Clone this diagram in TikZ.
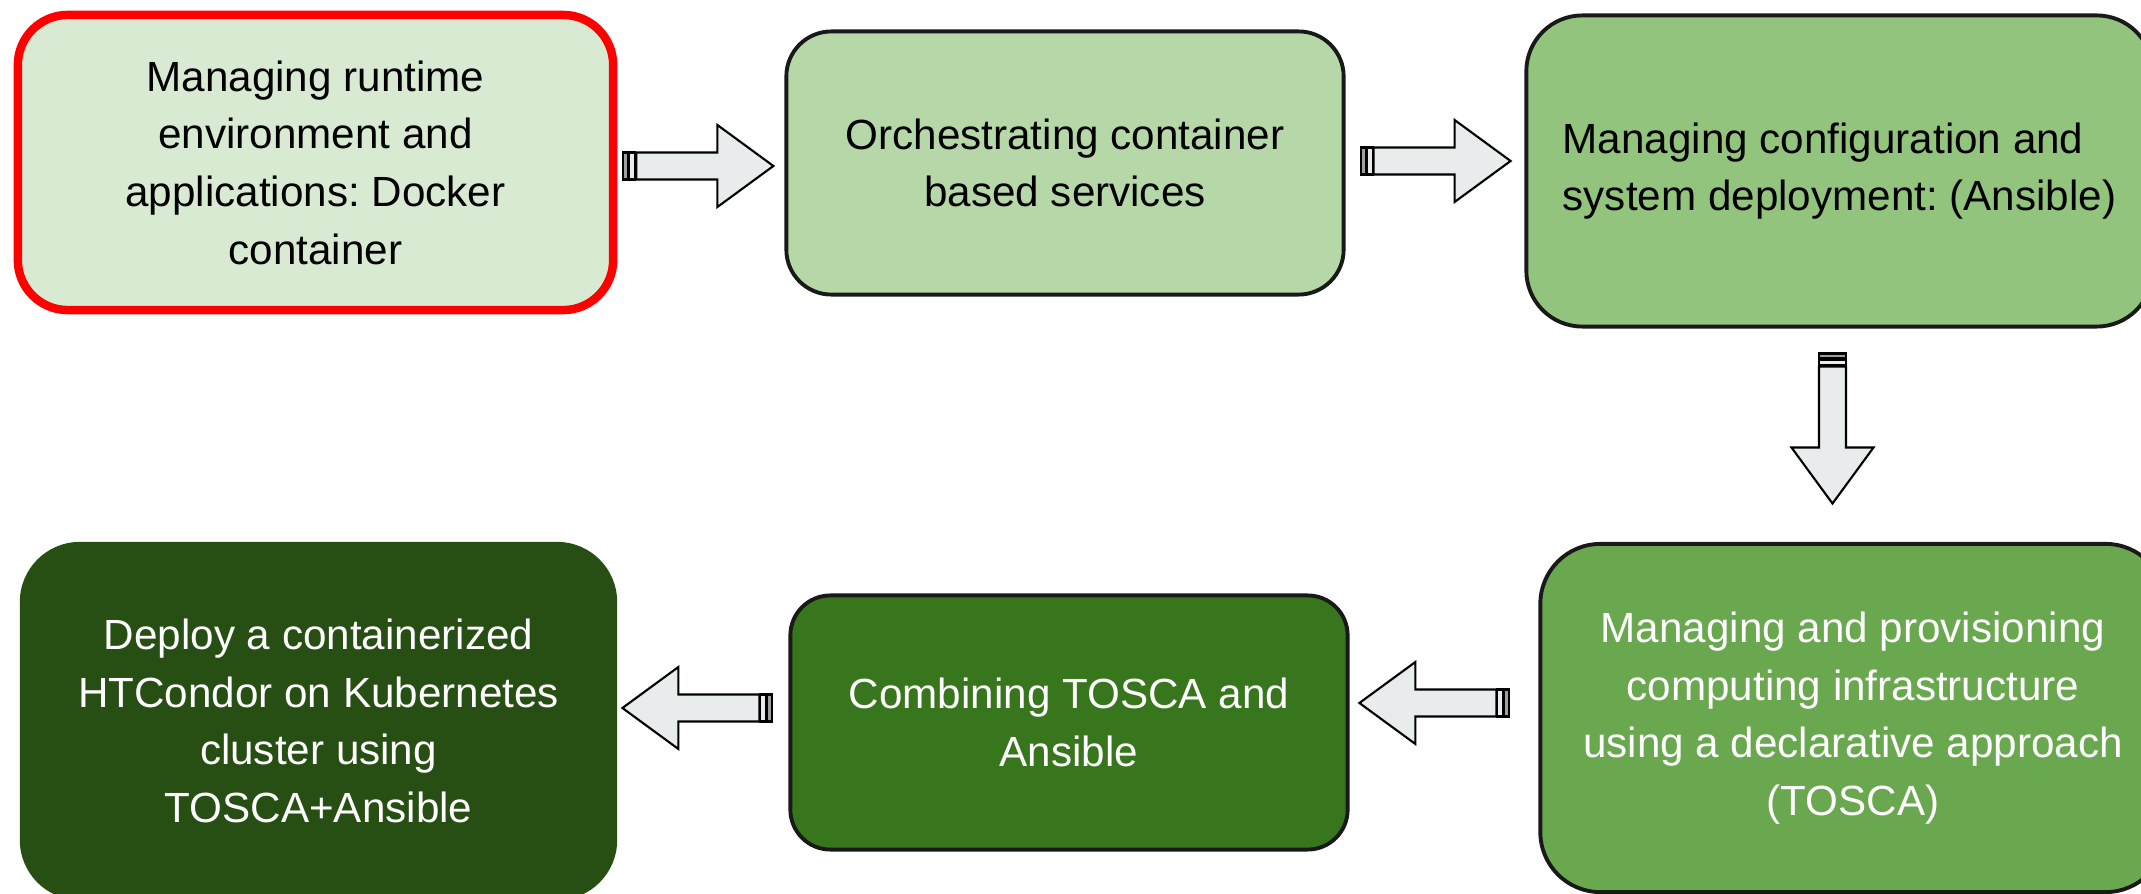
\documentclass[tikz,border=0pt]{standalone}
\usepackage{fontspec}
\setmainfont{Liberation Sans}
\usepackage{xcolor}
\usepackage{tikz}
\usetikzlibrary{positioning,calc}
\frenchspacing

\definecolor{greenA}{HTML}{D9EAD3}
\definecolor{greenB}{HTML}{B6D7A8}
\definecolor{greenC}{HTML}{93C47D}
\definecolor{greenD}{HTML}{6AA84F}
\definecolor{greenE}{HTML}{38761D}
\definecolor{greenF}{HTML}{274E13}
\definecolor{arrgrey}{HTML}{E9ECEC}

% block arrow, 150px long, from a named coordinate
\newcommand{\fatarrow}[2]{%
\begin{scope}[shift={(#1)},rotate=#2]
\draw [line width = 0.6pt,fill=gray!75] (0,-13.5) rectangle (5,13.5);
\draw [line width = 0.6pt,fill=arrgrey] (6,-13.5) rectangle (12,13.5);
\draw [line width = 0.6pt,fill=arrgrey] (13,-13.5) -- (94,-13.5) -- (94,-41) -- (150,0) -- (94,41) -- (94,13.5) -- (13,13.5) -- cycle;
\end{scope}}

\begin{document}
\begin{tikzpicture}[x=0.01cm,y=-0.01cm,
  box/.style={rectangle, draw=black!90, line width=1.1pt, inner sep=0pt, align=center,
    font=\fontsize{12pt}{16.4pt}\selectfont}]
\useasboundingbox (0,0) rectangle (2141,894);
\node [box, draw=red, line width=2.4pt, fill=greenA, rounded corners=0.5cm,
  minimum width=5.95cm, minimum height=2.95cm] (runtime) at (315.5,162.5)
  {Managing runtime\\environment and\\applications: Docker\\container};
\node [box, fill=greenB, rounded corners=0.45cm,
  minimum width=5.57cm, minimum height=2.63cm] (orch) at (1065,163)
  {Orchestrating container\\based services};
\node [box, fill=greenC, rounded corners=0.56cm, align=left,
  minimum width=6.26cm, minimum height=3.11cm] (config) at (1839.5,171)
  {Managing configuration and\\system deployment: (Ansible)};
\node [box, fill=greenD, rounded corners=0.6cm, text=white,
  minimum width=6.25cm, minimum height=3.48cm] (tosca) at (1853,718)
  {Managing and provisioning\\computing infrastructure\\using a declarative approach\\(TOSCA)};
\node [box, fill=greenE, rounded corners=0.4cm, text=white,
  minimum width=5.57cm, minimum height=2.54cm] (combine) at (1069,722.5)
  {Combining TOSCA and\\Ansible};
\node [box, draw=none, fill=greenF, rounded corners=0.6cm, text=white,
  minimum width=5.97cm, minimum height=3.58cm] (deploy) at (318.5,721)
  {Deploy a containerized\\HTCondor on Kubernetes\\cluster using\\TOSCA+Ansible};
\coordinate (a1) at ($(runtime.east)+(6,3.5)$);
\coordinate (a2) at ($(orch.east)+(15,-2)$);
\coordinate (a3) at ($(config.south)+(-7,25)$);
\coordinate (a4) at ($(tosca.west)+(-29,-15)$);
\coordinate (a5) at ($(combine.west)+(-16,-14.5)$);
\fatarrow{a1}{0}
\fatarrow{a2}{0}
\fatarrow{a3}{-90}
\fatarrow{a4}{180}
\fatarrow{a5}{180}
\end{tikzpicture}
\end{document}
